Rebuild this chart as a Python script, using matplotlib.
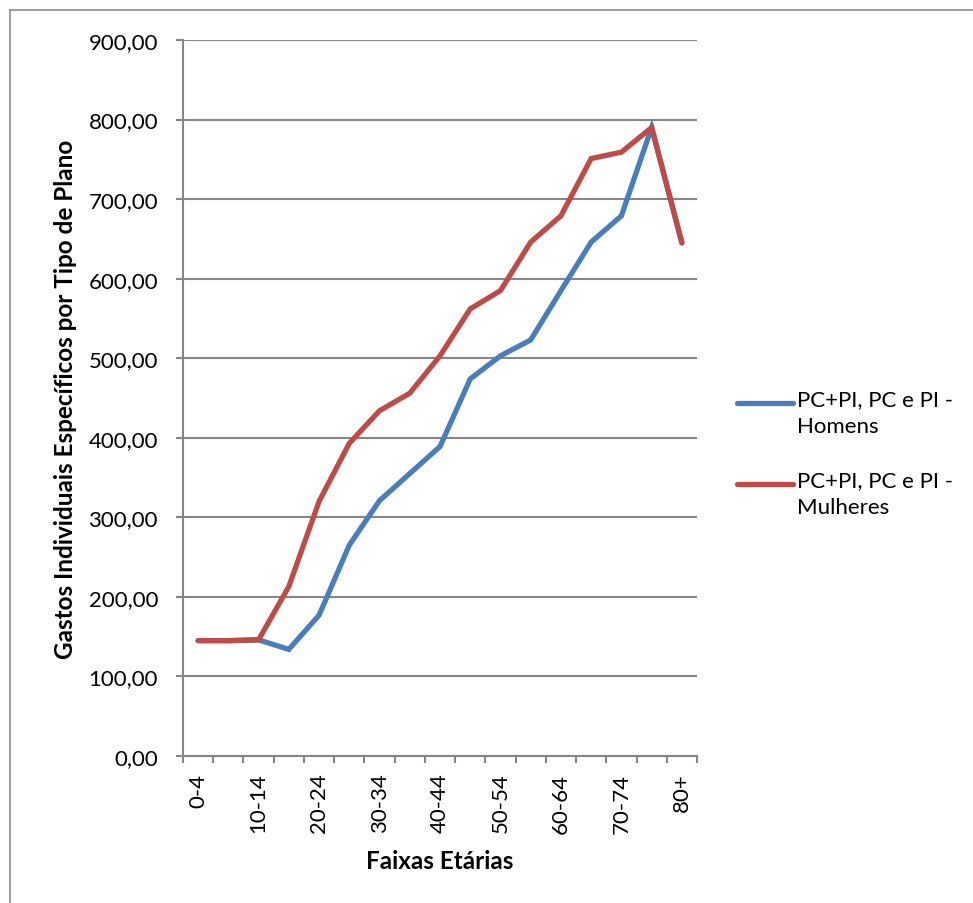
import matplotlib
matplotlib.use("Agg")
import matplotlib.pyplot as plt
from matplotlib.lines import Line2D
import numpy as np

plt.rcParams["font.family"] = ["Lato", "DejaVu Sans"]

# ---- data ----
faixas = ["0-4", "5-9", "10-14", "15-19", "20-24", "25-29", "30-34", "35-39",
          "40-44", "45-49", "50-54", "55-59", "60-64", "65-69", "70-74",
          "75-79", "80+"]
homens = [145, 145, 146, 134, 177, 265, 321, 355, 389, 474, 503, 523,
          585, 646, 679, 790, 645]
mulheres = [145, 145, 146, 213, 320, 393, 434, 456, 503, 562, 585, 646,
            679, 751, 759, 790, 645]
series_labels = ["PC+PI, PC e PI -\nHomens", "PC+PI, PC e PI -\nMulheres"]
yticks = [0, 100, 200, 300, 400, 500, 600, 700, 800, 900]

BLUE = "#4A7EBB"
RED = "#BE4B48"
GRID = "#868686"

W, H = 973, 904
AX_L, AX_R, AX_T, AX_B = 183, 697, 41, 757
fig = plt.figure(figsize=(W / 100, H / 100), dpi=100)
ax = fig.add_axes([AX_L / W, 1 - AX_B / H, (AX_R - AX_L) / W, (AX_B - AX_T) / H])

x = np.arange(len(faixas))
lb, = ax.plot(x, homens, color=BLUE, lw=3.8, solid_capstyle="round",
              solid_joinstyle="miter", zorder=3)
lr, = ax.plot(x, mulheres, color=RED, lw=3.8, solid_capstyle="round",
              solid_joinstyle="miter", zorder=4)

ax.set_xlim(-0.5, len(faixas) - 0.5)
ax.set_ylim(0, 900)
ax.set_yticks(yticks)
ax.set_yticklabels([f"{v:,.2f}".replace(".", ",") for v in yticks])
ax.yaxis.grid(True, color=GRID, lw=1.5)
ax.set_axisbelow(True)

# category boundary ticks, labels on every other category
ax.set_xticks(np.arange(len(faixas) + 1) - 0.5)
ax.set_xticklabels([])
ax.set_xticks(x[::2], minor=True)
ax.set_xticklabels(faixas[::2], minor=True, rotation=90, va="top")
ax.tick_params(axis="x", which="minor", length=0, pad=12, labelsize=16)
ax.tick_params(axis="x", which="major", length=5, width=1.5, color=GRID)
ax.tick_params(axis="y", length=5, width=1.5, color=GRID, labelsize=16, pad=13)

for s in ["top", "right"]:
    ax.spines[s].set_visible(False)
for s in ["left", "bottom"]:
    ax.spines[s].set_color(GRID)
    ax.spines[s].set_linewidth(1.5)

ax.set_ylabel("Gastos Individuais Específicos por Tipo de Plano",
              fontsize=17.5, fontweight="bold")
ax.yaxis.set_label_coords((77 - AX_L) / (AX_R - AX_L), 0.5)
fig.text(440 / W, 1 - 862 / H, "Faixas Etárias", fontsize=17.5,
         fontweight="bold", ha="center", va="center")

# legend (Excel style: handle aligned with first text line)
for line, label, ytop in [(lb, series_labels[0], 404), (lr, series_labels[1], 485)]:
    fig.add_artist(Line2D([737 / W, 793 / W], [1 - ytop / H, 1 - ytop / H],
                          color=line.get_color(), lw=3.8,
                          solid_capstyle="round", transform=fig.transFigure))
    fig.text(797 / W, 1 - (ytop - 14) / H, label, fontsize=16, va="top",
             ha="left", linespacing=1.45)

# outer frame of the chart object
fig.add_artist(Line2D([10 / W, 10 / W], [0, 1 - 11 / H], color="#8c8c8c",
                      lw=1.2, transform=fig.transFigure))
fig.add_artist(Line2D([10 / W, 1], [1 - 11 / H, 1 - 11 / H], color="#8c8c8c",
                      lw=1.2, transform=fig.transFigure))

fig.savefig("out.png", dpi=100)
